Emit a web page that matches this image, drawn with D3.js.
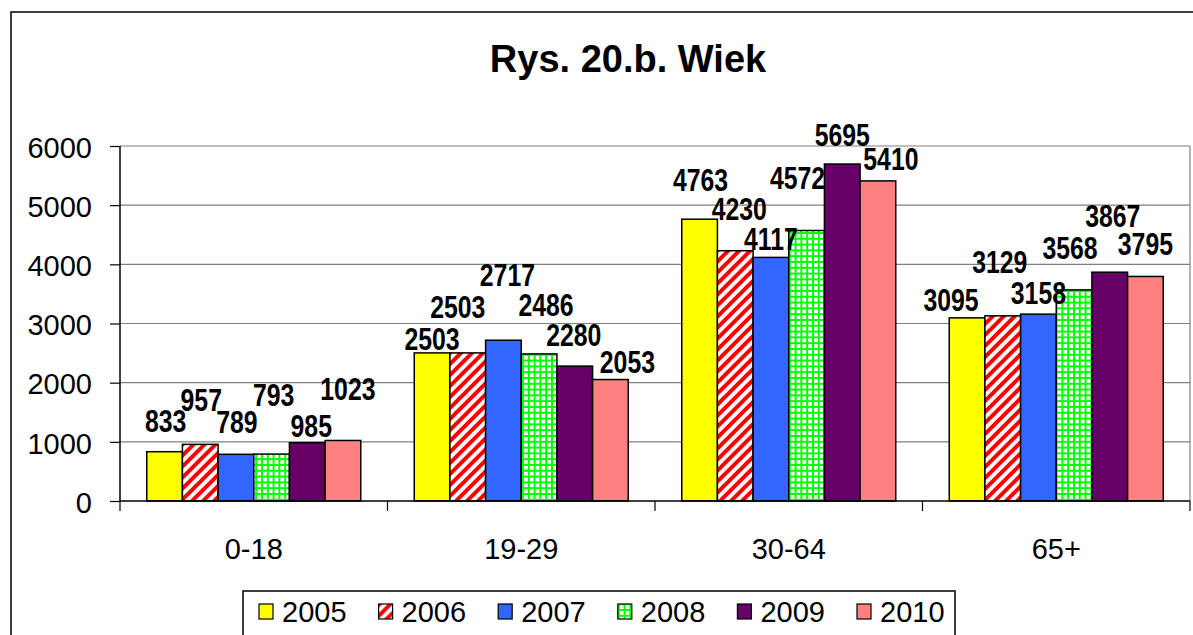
<!DOCTYPE html>
<html><head><meta charset="utf-8">
<script src="https://cdn.jsdelivr.net/npm/d3@7"></script>
<style>
html,body{margin:0;padding:0;background:#fff;overflow:hidden}
svg{display:block}
</style></head>
<body>
<svg id="chart" width="1193" height="635"></svg>
<script>
// ---- data ----
const categories = ["0-18", "19-29", "30-64", "65+"];
const years = ["2005", "2006", "2007", "2008", "2009", "2010"];
const v2005 = [833, 2503, 4763, 3095];
const v2006 = [957, 2503, 4230, 3129];
const v2007 = [789, 2717, 4117, 3158];
const v2008 = [793, 2486, 4572, 3568];
const v2009 = [985, 2280, 5695, 3867];
const v2010 = [1023, 2053, 5410, 3795];
const yTicks = [0, 1000, 2000, 3000, 4000, 5000, 6000];
const chartTitle = "Rys. 20.b. Wiek";
// label placement (pixel offsets of each data label from its bar top / centre), per category then year
const labelShiftX = [[1, 1, 1, 2, 4, 5], [0, -10, 4, 7, -1, 17], [1, 4, 0, -9, 0, 13], [-16, -3, 0, -4, 3, 0]];
const labelLift = [[20, 33, 21, 48, 6, 40], [3, 35, 54, 38, 20, 7], [28, 31, 7, 41, 18, 11], [7, 43, 10, 31, 45, 21]];

const seriesValues = [v2005, v2006, v2007, v2008, v2009, v2010];
const fills = ["#ffff00", "url(#pStripe)", "#3366ff", "url(#pGrid)", "#660066", "#ff8080"];

const svg = d3.select("#chart");
const defs = svg.append("defs");
// red diagonal stripes
const ps = defs.append("pattern").attr("id", "pStripe").attr("patternUnits", "userSpaceOnUse")
  .attr("width", 11).attr("height", 11);
ps.append("rect").attr("width", 11).attr("height", 11).attr("fill", "#fff");
ps.append("path").attr("d", "M-3,3 L3,-3 M0,11 L11,0 M8,14 L14,8")
  .attr("stroke", "#ff0000").attr("stroke-width", 4);
// green grid
const pg = defs.append("pattern").attr("id", "pGrid").attr("patternUnits", "userSpaceOnUse")
  .attr("width", 5.8).attr("height", 5.8);
pg.append("rect").attr("width", 5.8).attr("height", 5.8).attr("fill", "#fff");
pg.append("path").attr("d", "M1,0 V5.8 M0,1 H5.8").attr("stroke", "#00ff00").attr("stroke-width", 2);

// outer chart frame (extends past the window)
svg.append("rect").attr("x", 11).attr("y", 12).attr("width", 1300).attr("height", 700)
  .attr("fill", "none").attr("stroke", "#000").attr("stroke-width", 1.5);

const pL = 120, pR = 1190, pT = 146, pB = 501;
const x0 = d3.scaleBand().domain(categories).range([pL, pR]).paddingInner(0).paddingOuter(0);
const bw = x0.bandwidth();
const w = bw / 7.5;
const x1 = d3.scaleBand().domain(years).range([0.75 * w, bw - 0.75 * w]).padding(0);
const y = d3.scaleLinear().domain([0, 6000]).range([pB, pT]);

// gridlines
svg.append("g").selectAll("line").data(yTicks.filter(d => d > 0)).join("line")
  .attr("x1", pL).attr("x2", pR).attr("y1", d => y(d)).attr("y2", d => y(d))
  .attr("stroke", "#808080").attr("stroke-width", 1.2);
// plot right border
svg.append("line").attr("x1", pR).attr("x2", pR).attr("y1", pT).attr("y2", pB)
  .attr("stroke", "#808080").attr("stroke-width", 1.2);

// bars
const barData = [];
categories.forEach((c, ci) => years.forEach((yr, si) => barData.push({ c, ci, yr, si, v: seriesValues[si][ci] })));
svg.append("g").selectAll("rect").data(barData).join("rect")
  .attr("x", d => x0(d.c) + x1(d.yr))
  .attr("y", d => y(d.v))
  .attr("width", x1.bandwidth())
  .attr("height", d => y(0) - y(d.v))
  .attr("fill", d => fills[d.si])
  .attr("stroke", "#000").attr("stroke-width", 1.5);

// axes
const yAxis = svg.append("g").attr("transform", `translate(${pL},0)`)
  .call(d3.axisLeft(y).tickValues(yTicks).tickSize(10).tickPadding(18).tickFormat(d3.format("d")));
yAxis.select(".domain").attr("stroke", "#000").attr("stroke-width", 1.5).attr("d", `M0,${pT}V${pB}`);
yAxis.selectAll(".tick line").attr("stroke", "#000").attr("stroke-width", 1.2);
yAxis.selectAll(".tick text").attr("font-family", "'Liberation Sans', Arial, sans-serif")
  .attr("font-size", 29).attr("fill", "#000").attr("dy", "0.39em");

const xAxis = svg.append("g").attr("transform", `translate(0,${pB})`)
  .call(d3.axisBottom(x0).tickSize(0).tickPadding(0));
xAxis.select(".domain").remove();
xAxis.selectAll(".tick text").remove();
svg.append("line").attr("x1", pL).attr("x2", pR).attr("y1", pB).attr("y2", pB)
  .attr("stroke", "#000").attr("stroke-width", 1.5);
const bounds = categories.map(c => x0(c)).concat([pR]);
svg.append("g").selectAll("line").data(bounds).join("line")
  .attr("x1", d => d).attr("x2", d => d).attr("y1", pB).attr("y2", pB + 10)
  .attr("stroke", "#000").attr("stroke-width", 1.2);
svg.append("g").selectAll("text").data(categories).join("text")
  .attr("x", d => x0(d) + bw / 2).attr("y", 559)
  .attr("text-anchor", "middle").attr("font-family", "'Liberation Sans', Arial, sans-serif")
  .attr("font-size", 29).text(d => d);

// data labels (condensed bold, like Arial Narrow)
svg.append("g").selectAll("text").data(barData).join("text")
  .attr("transform", d => `translate(${x0(d.c) + x1(d.yr) + x1.bandwidth() / 2 + labelShiftX[d.ci][d.si]},${y(d.v) - labelLift[d.ci][d.si]}) scale(0.8,1)`)
  .attr("text-anchor", "middle")
  .attr("font-family", "'Liberation Sans', Arial, sans-serif")
  .attr("font-weight", "bold").attr("font-size", 31).attr("fill", "#000")
  .text(d => d.v);

// title
svg.append("text").attr("x", 628).attr("y", 72).attr("text-anchor", "middle")
  .attr("font-family", "'Liberation Sans', Arial, sans-serif").attr("font-weight", "bold")
  .attr("font-size", 38).text(chartTitle);

// legend
const lg = svg.append("g");
lg.append("rect").attr("x", 243).attr("y", 591).attr("width", 712).attr("height", 80)
  .attr("fill", "#fff").attr("stroke", "#000").attr("stroke-width", 1.5);
const item = lg.selectAll("g.item").data(years).join("g").attr("class", "item")
  .attr("transform", (d, i) => `translate(${259 + i * 119.6},0)`);
item.append("rect").attr("x", 0).attr("y", 604).attr("width", 14).attr("height", 15)
  .attr("fill", (d, i) => fills[i]).attr("stroke", "#000").attr("stroke-width", 1.2);
item.append("text").attr("x", 23).attr("y", 622)
  .attr("font-family", "'Liberation Sans', Arial, sans-serif").attr("font-size", 29).text(d => d);
</script>
</body></html>
